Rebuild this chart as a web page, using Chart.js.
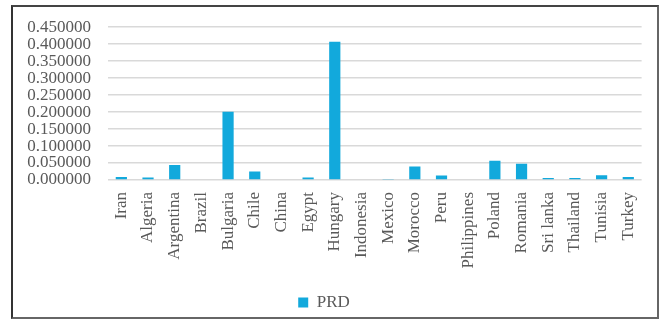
<!DOCTYPE html>
<html>
<head>
<meta charset="utf-8">
<script src="https://cdn.jsdelivr.net/npm/chart.js@4/dist/chart.umd.min.js"></script>
<style>
html,body{margin:0;padding:0;background:#fff;}
#frame{position:absolute;left:11px;top:5px;width:644px;height:310px;border:2px solid #666;border-left-color:#333;border-top-color:#444;}
#wrap{position:absolute;left:0;top:0;width:661px;height:321px;}
</style>
</head>
<body>
<div id="frame"></div>
<div id="wrap"><canvas id="c" width="661" height="321"></canvas></div>
<script>
const categories = ["Iran","Algeria","Argentina","Brazil","Bulgaria","Chile","China","Egypt","Hungary","Indonesia","Mexico","Morocco","Peru","Philippines","Poland","Romania","Sri lanka","Thailand","Tunisia","Turkey"];
const prdValues = [0.0085,0.007,0.0445,0.002,0.201,0.025,0.0,0.007,0.407,0.0,0.003,0.040,0.013,0.0,0.057,0.048,0.006,0.006,0.014,0.009];
const yTicks = [0,0.05,0.1,0.15,0.2,0.25,0.3,0.35,0.4,0.45];

const fontFam = "'Liberation Serif','DejaVu Serif',serif";
new Chart(document.getElementById('c'), {
  type: 'bar',
  data: {
    labels: categories,
    datasets: [{
      label: 'PRD',
      data: prdValues,
      backgroundColor: '#12a9dc',
      borderWidth: 0,
      categoryPercentage: 0.42,
      barPercentage: 1.0
    }]
  },
  options: {
    responsive: false,
    animation: false,
    devicePixelRatio: 1,
    layout: { padding: { top: 15, right: 13, left: 0, bottom: 0 } },
    plugins: {
      legend: {
        position: 'bottom',
        labels: { boxWidth: 10, boxHeight: 10, padding: 8, color: '#595959', font: { family: fontFam, size: 17 } }
      },
      tooltip: { enabled: false }
    },
    scales: {
      x: {
        grid: { display: false, drawTicks: false },
        border: { display: false },
        ticks: { color: '#595959', font: { family: fontFam, size: 17 }, minRotation: 90, maxRotation: 90, padding: 12, autoSkip: false },
        afterFit: s => { s.height = 106; }
      },
      y: {
        min: 0, max: 0.45,
        afterBuildTicks: s => { s.ticks = yTicks.map(v => ({ value: v })); },
        grid: { color: '#d9d9d9', lineWidth: 1.5, drawTicks: false },
        border: { display: false },
        ticks: { color: '#595959', font: { family: fontFam, size: 17 }, padding: 17, autoSkip: false, callback: v => Number(v).toFixed(6) },
        afterFit: s => { s.width = 108; }
      }
    }
  }
});
</script>
</body>
</html>
